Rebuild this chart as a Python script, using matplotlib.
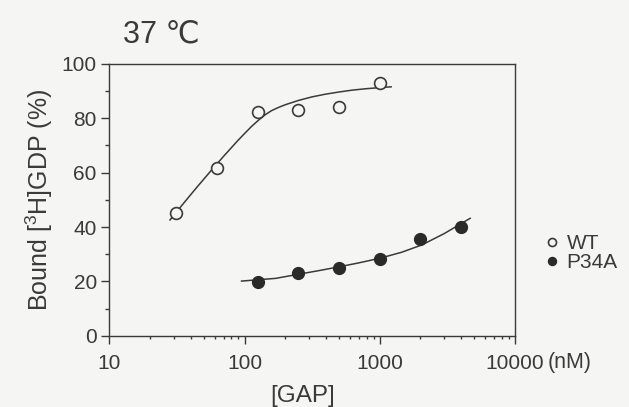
import matplotlib.pyplot as plt
import numpy as np
from matplotlib.ticker import MultipleLocator, LogLocator, FixedFormatter, FixedLocator

plt.rcParams['font.family'] = ['Liberation Sans', 'DejaVu Sans']
plt.rcParams['mathtext.fontset'] = 'custom'
plt.rcParams['mathtext.rm'] = 'Liberation Sans'
plt.rcParams['mathtext.it'] = 'Liberation Sans:italic'

# measured points
wt_x = [31.25, 62.5, 125, 250, 500, 1000]
wt_y = [45.3, 61.6, 82.4, 83.1, 84.3, 93.1]
p34a_x = [125, 250, 500, 1000, 2000, 4000]
p34a_y = [19.9, 23.1, 25.0, 28.2, 35.5, 40.1]

# fitted curves
wt_fit_x = [28.1, 35.5, 44.7, 56.2, 70.8, 89.1, 100, 112, 126, 141, 158,
            178, 200, 251, 316, 398, 501, 631, 794, 1000, 1213]
wt_fit_y = [42.6, 48.8, 54.8, 60.6, 66.3, 71.8, 74.4, 76.9, 79.2, 81.2, 82.8,
            84.0, 85.0, 86.6, 87.9, 88.9, 89.7, 90.4, 90.9, 91.3, 91.6]
p34a_fit_x = [95, 170, 243, 350, 494, 700, 1000, 1450, 2046, 3000, 4657]
p34a_fit_y = [20.1, 21.1, 22.5, 23.9, 25.3, 26.8, 28.5, 30.7, 33.4, 37.6, 43.2]

ink = '#3a3a3a'
bg = '#f5f5f4'

fig = plt.figure(figsize=(6.29, 4.07), dpi=100, facecolor=bg)
ax = fig.add_axes([0.1738, 0.1752, 0.645, 0.6676])
ax.set_facecolor(bg)

ax.plot(wt_fit_x, wt_fit_y, color=ink, lw=1.1)
ax.plot(p34a_fit_x, p34a_fit_y, color=ink, lw=1.1)
ax.plot(wt_x, wt_y, 'o', ms=8.5, mfc=bg, mec=ink, mew=1.2, label='WT', ls='none')
ax.plot(p34a_x, p34a_y, 'o', ms=8.5, mfc='#2a2a2a', mec='#2a2a2a', label='P34A', ls='none')

ax.set_xscale('log')
ax.set_xlim(10, 10000)
ax.set_ylim(0, 100)

ax.yaxis.set_major_locator(MultipleLocator(20))
ax.yaxis.set_minor_locator(MultipleLocator(10))
ax.xaxis.set_major_locator(FixedLocator([10, 100, 1000, 10000]))
ax.xaxis.set_major_formatter(FixedFormatter(['10', '100', '1000', '10000']))
ax.xaxis.set_minor_locator(LogLocator(base=10, subs=np.arange(2, 10)))
ax.xaxis.set_minor_formatter(FixedFormatter([]))

ax.tick_params(axis='both', which='major', direction='out', length=6, width=1.0,
               color=ink, labelsize=15, labelcolor=ink, pad=3)
ax.tick_params(axis='y', which='minor', direction='out', length=3, width=1.0, color=ink)
ax.tick_params(axis='x', which='minor', direction='out', length=2.5, width=1.0, color=ink)
ax.tick_params(axis='x', which='major', pad=7)
for s in ax.spines.values():
    s.set_color(ink)
    s.set_linewidth(1.0)

ax.set_ylabel('Bound [$^{3}$H]GDP (%)', fontsize=18, color=ink, labelpad=5)
ax.set_xlabel('[GAP]', fontsize=17.5, color=ink)
ax.xaxis.set_label_coords(0.477, -0.18)
ax.text(1.081, -0.10, '(nM)', transform=ax.transAxes, fontsize=15.5, color=ink,
        ha='left', va='center')

fig.text(0.195, 0.915, '37 \u2103', fontsize=22, color=ink, ha='left', va='center')

ax.legend(loc='center left', bbox_to_anchor=(1.076, 0.304), frameon=False,
          fontsize=15, labelcolor=ink, handlelength=0.6, handletextpad=0.4,
          markerscale=0.68, labelspacing=0.0, borderaxespad=0, borderpad=0)

fig.savefig('out.png', dpi=100, facecolor=bg)
